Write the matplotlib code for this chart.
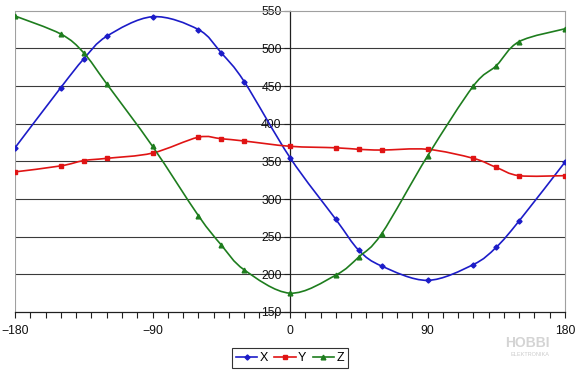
import numpy as np
import matplotlib
matplotlib.use("Agg")
import matplotlib.pyplot as plt
from matplotlib.path import Path
from matplotlib.patches import PathPatch
from matplotlib.lines import Line2D
from matplotlib.ticker import MultipleLocator

plt.rcParams['font.family'] = ['Liberation Sans', 'DejaVu Sans']

# angle (deg) and readings of the three axes
angles = [-180, -150, -135, -120, -90, -60, -45, -30, 0, 30, 45, 60, 90, 120, 135, 150, 180]
x_vals = [368, 448, 486, 516, 542, 525, 494, 456, 355, 273, 232, 211, 192, 213, 236, 271, 349]
y_vals = [336, 344, 351, 354, 361, 382, 380, 377, 370, 368, 366, 365, 366, 354, 342, 331, 331]
z_vals = [543, 519, 494, 453, 370, 278, 239, 206, 175, 199, 223, 254, 357, 450, 477, 509, 526]

series = [("X", x_vals, "#1c1cc8", "D", 2.6),
          ("Y", y_vals, "#e01414", "s", 3.0),
          ("Z", z_vals, "#1e7d1e", "^", 3.4)]


def smooth_path(xs, ys):
    # Excel-style smoothed line: cubic Bezier segments through the points
    pts = np.column_stack([xs, ys]).astype(float)
    n = len(pts)
    verts = [pts[0]]
    codes = [Path.MOVETO]
    for i in range(n - 1):
        p0 = pts[i - 1] if i > 0 else pts[i]
        p1 = pts[i]
        p2 = pts[i + 1]
        p3 = pts[i + 2] if i + 2 < n else pts[i + 1]
        c1 = p1 + (p2 - p0) / 6.0
        c2 = p2 - (p3 - p1) / 6.0
        verts += [c1, c2, p2]
        codes += [Path.CURVE4] * 3
    return Path(verts, codes)


fig = plt.figure(figsize=(5.8, 3.72), dpi=100)
ax = fig.add_axes([15 / 580, 1 - 312 / 372, 550 / 580, (312 - 10.7) / 372])
ax.set_xlim(-180, 180)
ax.set_ylim(150, 550)

for yv in range(200, 550, 50):
    ax.axhline(yv, color="#3a3a3a", lw=0.8, zorder=1)

handles = []
for name, vals, col, mk, ms in series:
    patch = PathPatch(smooth_path(angles, vals), fill=False, edgecolor=col,
                      lw=1.2, transform=ax.transData, zorder=3)
    ax.add_patch(patch)
    ax.plot(angles, vals, linestyle="none", marker=mk, color=col,
            markersize=ms, zorder=4)
    handles.append(Line2D([], [], color=col, lw=1.2, marker=mk, markersize=ms, label=name))

# frame
for s in ["top", "right"]:
    ax.spines[s].set_color("#a0a0a0")
    ax.spines[s].set_linewidth(0.8)
ax.spines["bottom"].set_color("#202020")
ax.spines["bottom"].set_linewidth(0.9)
ax.spines["left"].set_position(("data", 0))
ax.spines["left"].set_color("#202020")
ax.spines["left"].set_linewidth(0.9)
ax.axvline(-180, color="#a0a0a0", lw=0.8, zorder=1)

ax.xaxis.set_major_locator(MultipleLocator(90))
ax.xaxis.set_minor_locator(MultipleLocator(10))
ax.yaxis.set_major_locator(MultipleLocator(50))
ax.tick_params(axis="x", which="both", direction="out", length=4, width=0.8,
               color="#202020", labelsize=8.8, pad=5)
ax.tick_params(axis="y", direction="out", length=4, width=0.8,
               color="#202020", labelsize=8.8, pad=2)
for lbl in ax.get_xticklabels() + ax.get_yticklabels():
    lbl.set_color("#111111")

leg = fig.legend(handles=handles, loc="center", bbox_to_anchor=(290 / 580, 1 - 358 / 372),
                 ncol=3, frameon=True, fancybox=False, fontsize=9,
                 handlelength=1.7, handletextpad=0.2, columnspacing=0.5,
                 borderpad=0.3, borderaxespad=0, edgecolor="#000000")
leg.get_frame().set_linewidth(0.8)

# watermark
fig.text(527 / 580, 1 - 343 / 372, "HOBBI", fontsize=10, fontweight="bold",
         color="#d4d4d4", ha="center", va="center")
fig.text(530 / 580, 1 - 354 / 372, "ELEKTRONIKA", fontsize=4, color="#cccccc",
         ha="center", va="center")

fig.savefig("out.png", dpi=100)
